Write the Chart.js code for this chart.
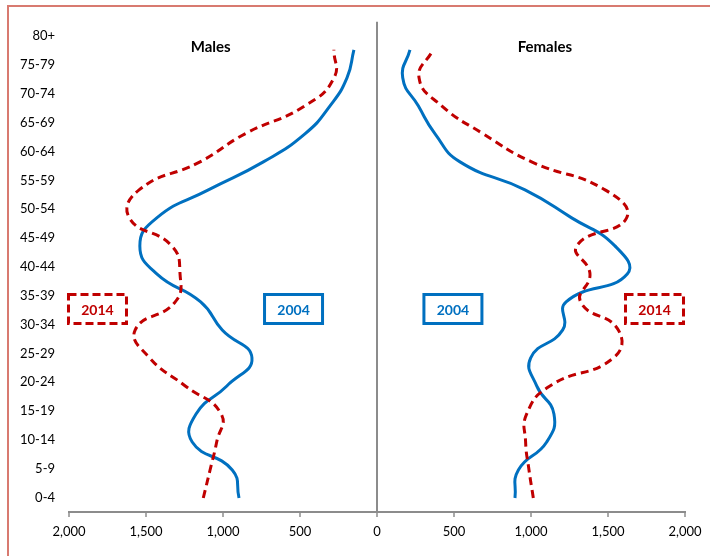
<!DOCTYPE html>
<html>
<head>
<meta charset="utf-8">
<script src="https://cdn.jsdelivr.net/npm/chart.js@4/dist/chart.umd.min.js"></script>
<style>
    body { margin: 0; background: #fff; }
    #wrap { position: relative; width: 710px; height: 556px; overflow: hidden; }
    #frame { position: absolute; left: 7px; top: 5px; width: 720px; height: 570px;
             border-top: 2px solid #d87a70; border-left: 2px solid #d87a70; pointer-events: none; }
</style>
</head>
<body>
<div id="wrap">
    <canvas id="pyramidChart" width="710" height="556"></canvas>
    <div id="frame"></div>
</div>
<script>
const ageGroups = ['0-4', '5-9', '10-14', '15-19', '20-24', '25-29', '30-34', '35-39', '40-44',
    '45-49', '50-54', '55-59', '60-64', '65-69', '70-74', '75-79', '80+'];

// population (thousands)
const males2004   = [896, 940, 1200, 1175, 975, 812, 1005, 1145, 1430, 1540, 1430, 1095, 738, 468, 305, 195, 150];
const males2014   = [1128, 1084, 1041, 1012, 1245, 1476, 1570, 1310, 1279, 1333, 1608, 1545, 1149, 857, 468, 279, 280];
const females2004 = [896, 918, 1102, 1149, 1037, 998, 1206, 1228, 1625, 1545, 1264, 961, 539, 377, 268, 167, 214];
const females2014 = [1015, 987, 965, 972, 1123, 1535, 1567, 1322, 1383, 1297, 1621, 1481, 1004, 690, 420, 273, 364];

const xTicks = [-2000, -1500, -1000, -500, 0, 500, 1000, 1500, 2000];

const BLUE = '#0070c0';
const RED = '#c00000';

function toPoints(values, sign) {
    return values.map((v, i) => ({ x: sign * v, y: i + 1 }));
}

function lineSet(label, values, sign, color, dashed) {
    return {
        label: label,
        data: toPoints(values, sign),
        showLine: true,
        borderColor: color,
        backgroundColor: color,
        borderWidth: 3,
        borderDash: dashed ? [8, 5] : [],
        pointRadius: 0,
        tension: 0.5,
        xAxisID: 'x',
        yAxisID: 'yData'
    };
}

// text labels and boxed years
const annotations = {
    id: 'annotations',
    afterDatasetsDraw(chart) {
        const { ctx, scales: { x } } = chart;
        ctx.save();
        ctx.textAlign = 'center';
        ctx.textBaseline = 'middle';
        ctx.fillStyle = '#000';
        ctx.font = 'bold 15px Lato';
        ctx.fillText('Males', x.getPixelForValue(-1080), 47);
        ctx.fillText('Females', x.getPixelForValue(1090), 47);

        const boxes = [
            { text: '2014', x: -1815, color: RED, dashed: true },
            { text: '2004', x: -542, color: BLUE, dashed: false },
            { text: '2004', x: 493, color: BLUE, dashed: false },
            { text: '2014', x: 1802, color: RED, dashed: true }
        ];
        boxes.forEach(b => {
            const cx = x.getPixelForValue(b.x);
            const cy = 309;
            ctx.lineWidth = 3;
            ctx.strokeStyle = b.color;
            ctx.setLineDash(b.dashed ? [8, 4] : []);
            ctx.strokeRect(cx - 29, cy - 14.5, 58, 29);
            ctx.setLineDash([]);
            ctx.fillStyle = b.color;
            ctx.font = 'bold 14px Lato';
            ctx.fillText(b.text, cx, cy + 1);
        });
        ctx.restore();
    }
};

const ctx = document.getElementById('pyramidChart').getContext('2d');

const pyramidChart = new Chart(ctx, {
    type: 'scatter',
    data: {
        datasets: [
            lineSet('Males 2014', males2014, -1, RED, true),
            lineSet('Males 2004', males2004, -1, BLUE, false),
            lineSet('Females 2014', females2014, 1, RED, true),
            lineSet('Females 2004', females2004, 1, BLUE, false)
        ]
    },
    options: {
        responsive: false,
        animation: false,
        layout: { padding: { top: 20, right: 25, left: 0, bottom: 0 } },
        plugins: {
            legend: { display: false },
            tooltip: { enabled: false }
        },
        scales: {
            x: {
                type: 'linear',
                min: -2000,
                max: 2000,
                afterBuildTicks: (scale) => { scale.ticks = xTicks.map(v => ({ value: v })); },
                afterFit: (scale) => { scale.height = 44; },
                ticks: {
                    color: '#000',
                    font: { family: 'Lato', size: 13 },
                    padding: 7,
                    maxRotation: 0,
                    callback: (v) => Math.abs(v).toLocaleString('en-US')
                },
                grid: {
                    drawOnChartArea: true,
                    color: (c) => (c.tick && c.tick.value === 0) ? '#8c8c8c' : 'rgba(0,0,0,0)',
                    lineWidth: 2,
                    drawTicks: true,
                    tickLength: 5,
                    tickColor: '#8c8c8c',
                    tickWidth: 1.5
                },
                border: { display: true, color: '#8c8c8c', width: 2 }
            },
            y: {
                type: 'category',
                labels: ageGroups,
                reverse: true,
                offset: true,
                position: 'left',
                afterFit: (scale) => { scale.width = 69; },
                ticks: {
                    color: '#000',
                    font: { family: 'Lato', size: 13 },
                    padding: 14,
                    autoSkip: false
                },
                grid: { display: false, drawTicks: false },
                border: { display: false }
            },
            yData: {
                type: 'linear',
                axis: 'y',
                position: 'left',
                min: 0.5,
                max: 18,
                display: false
            }
        }
    },
    plugins: [annotations]
});
</script>
</body>
</html>
